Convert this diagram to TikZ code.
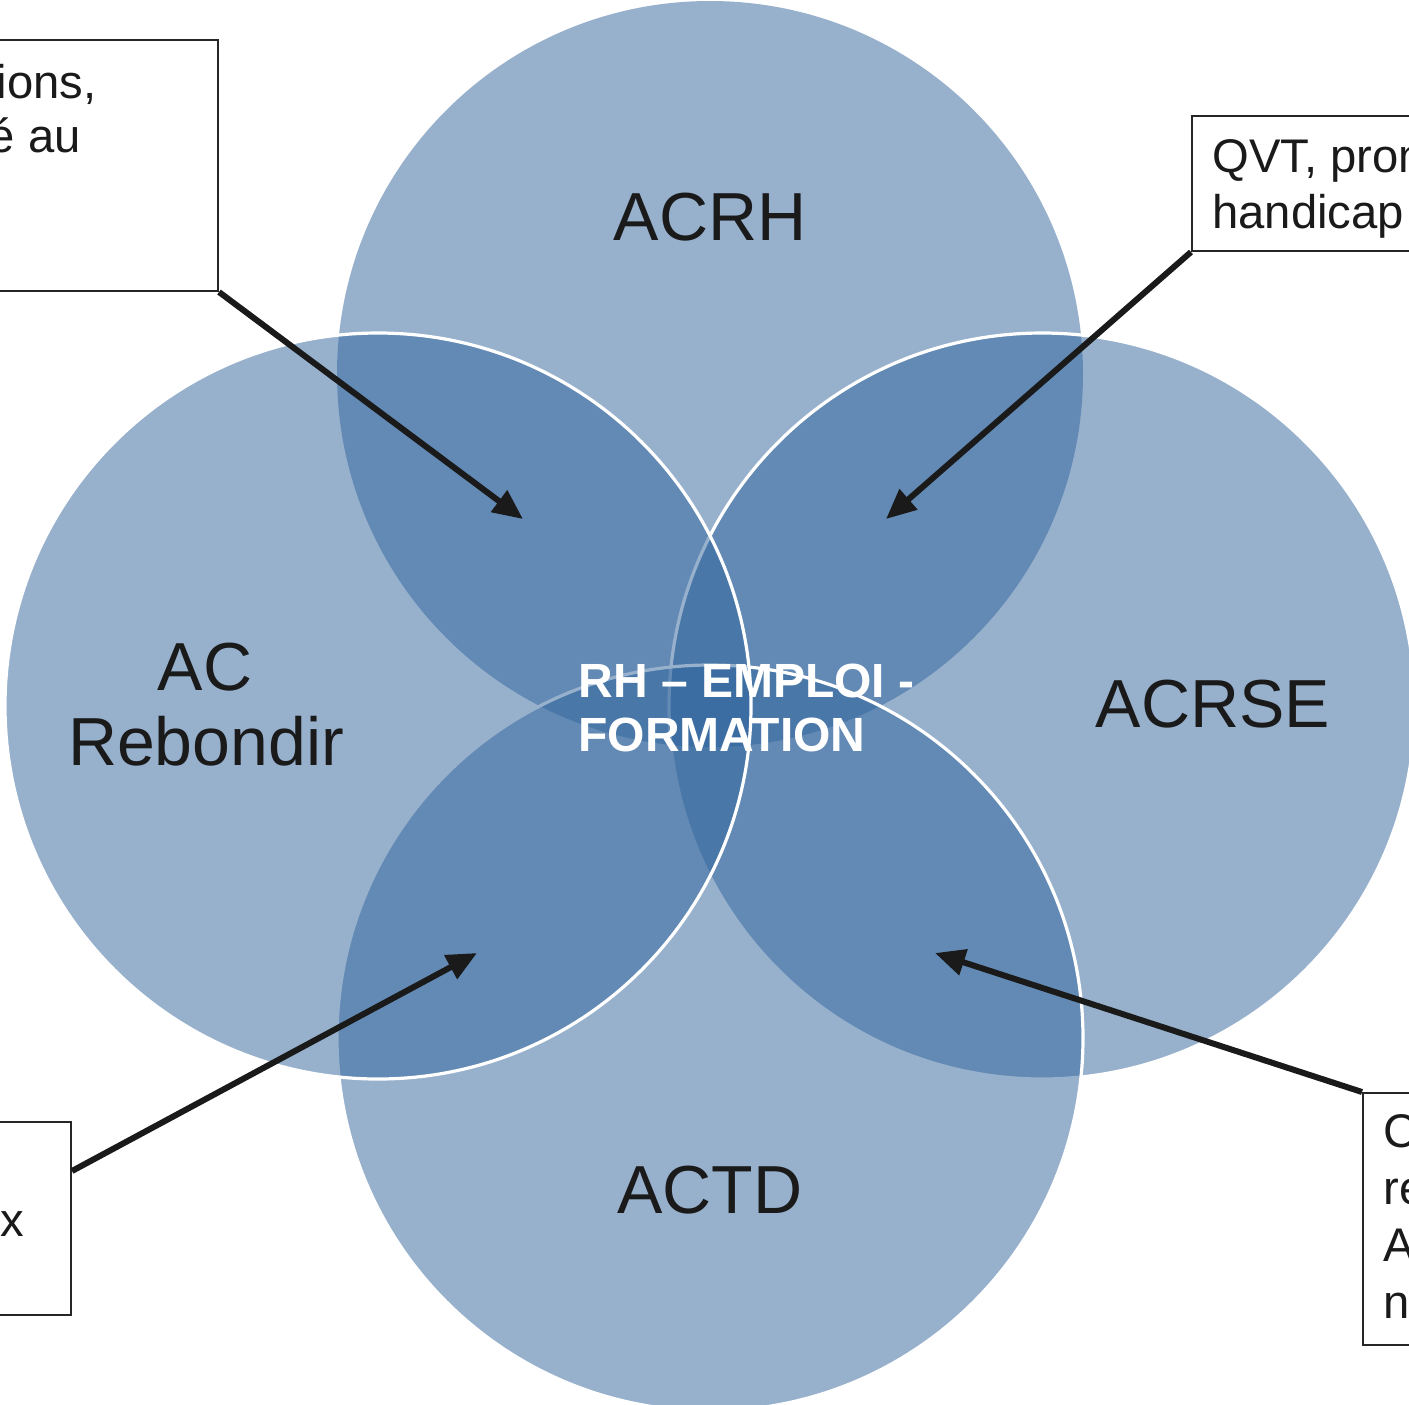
\documentclass[tikz,border=0pt]{standalone}
\usepackage{fontspec}
\setmainfont{Liberation Sans}
\usetikzlibrary{arrows.meta}
\definecolor{venn}{RGB}{49,101,157}
\definecolor{ink}{RGB}{26,26,26}
\definecolor{boxline}{RGB}{38,38,38}
\begin{document}
\begin{tikzpicture}[x=0.5pt,y=-0.5pt,
  venncircle/.style={circle, minimum size=373pt, inner sep=0pt, fill=venn, fill opacity=0.5},
  vennline/.style={draw=white, line width=1.6pt},
  biglabel/.style={inner sep=0pt, text=ink, font=\fontsize{34}{36}\selectfont, anchor=base},
  centerlabel/.style={inner sep=0pt, text=white, font=\bfseries\fontsize{24}{27}\selectfont, anchor=base west},
  notebox/.style={draw=boxline, line width=1pt, fill=white, inner sep=0pt},
  notetext/.style={inner sep=0pt, text=ink, font=\fontsize{23.6}{27}\selectfont},
  pointer/.style={draw=ink, line width=3pt, -{Triangle[length=15pt,width=13pt]}}]
\useasboundingbox (0,0) rectangle (1409,1404);
\clip (0,0) rectangle (1409,1404);
\fill[white] (0,0) rectangle (1409,1404);

% circles (drawn in order: top, right, bottom, left)
\node[venncircle] (ctop) at (710,374) {};
\node[venncircle, vennline] (cright) at (1042,706) {};
\node[venncircle, vennline] (cbottom) at (710,1038) {};
\node[venncircle, vennline] (cleft) at (378,706) {};

% circle labels
\node[biglabel] (lacrh) at (710,240) {ACRH};
\node[biglabel] (lacrse) at (1213,727) {ACRSE};
\node[biglabel] (lactd) at (710,1213) {ACTD};
\node[biglabel] (lac) at (205,690) {AC};
\node[biglabel] (lrebondir) at (206,765) {Rebondir};
\node[centerlabel] (lcenter1) at (578,697) {RH -- EMPLOI -};
\node[centerlabel] (lcenter2) at (578,751) {FORMATION};

% note boxes
\node[notebox, minimum width=114pt, minimum height=125.5pt] (boxA) at (104,165.5) {};
\node[notebox, minimum width=119pt, minimum height=67.5pt] (boxB) at (1311,183.5) {};
\node[notebox, minimum width=40.5pt, minimum height=96.5pt] (boxC) at (30.5,1218.5) {};
\node[notebox, minimum width=33.5pt, minimum height=126pt] (boxD) at (1396.5,1219) {};

\node[notetext, anchor=base east] (tA1) at (97,98) {ions,};
\node[notetext, anchor=base east] (tA2) at (81,152) {é au};
\node[notetext, anchor=base west] (tB1) at (1212,172) {QVT, prom};
\node[notetext, anchor=base west] (tB2) at (1212,228) {handicap};
\node[notetext, anchor=base west] (tC1) at (0,1236) {x};
\node[notetext, anchor=base west] (tD1) at (1383,1147) {C};
\node[notetext, anchor=base west] (tD2) at (1383,1204) {re};
\node[notetext, anchor=base west] (tD3) at (1383,1261) {A};
\node[notetext, anchor=base west] (tD4) at (1383,1318) {n};

% arrow targets
\coordinate (tipA) at (523,519);
\coordinate (tipB) at (886,519);
\coordinate (tipC) at (477,953);
\coordinate (tipD) at (935,953);

\draw[pointer] (boxA.south east) -- (tipA);
\draw[pointer] (boxB.south west) -- (tipB);
\draw[pointer] ([yshift=-25pt]boxC.north east) -- (tipC);
\draw[pointer] (boxD.north west) -- (tipD);
\end{tikzpicture}
\end{document}
